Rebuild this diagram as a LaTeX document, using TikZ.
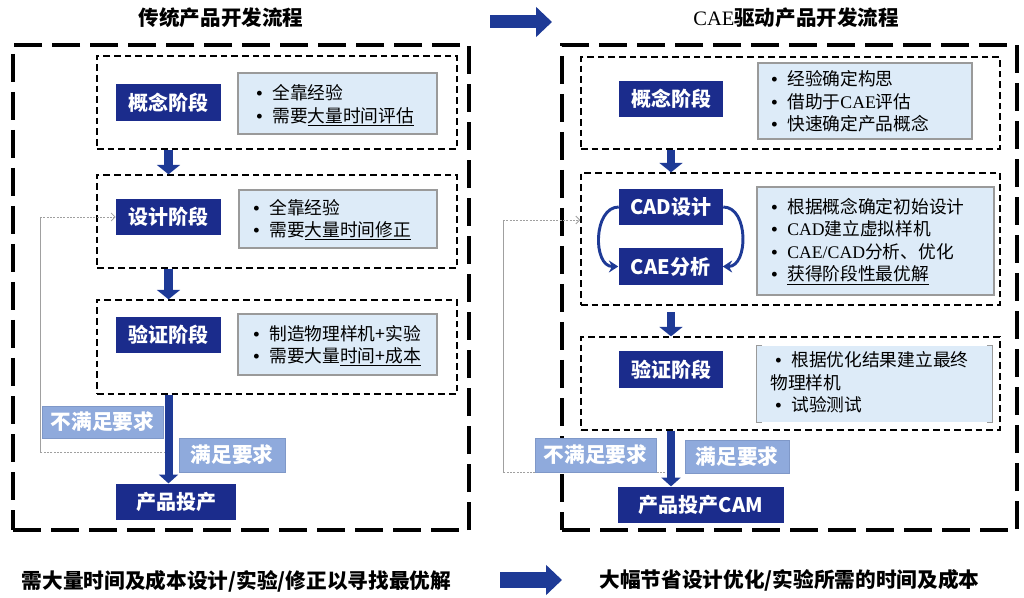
\documentclass[tikz,border=0pt]{standalone}
\usepackage{fontspec}
\setmainfont{Noto Sans CJK SC}
\newfontfamily\lser{Liberation Serif}
\usetikzlibrary{arrows.meta}
\definecolor{navy}{HTML}{1B2C8C}
\definecolor{arrblue}{HTML}{1E3A96}
\definecolor{lightfill}{HTML}{DDEBF8}
\definecolor{lightedge}{HTML}{9A9A9A}
\definecolor{labfill}{HTML}{8FAADC}
\definecolor{labedge}{HTML}{7F98C8}
\definecolor{fbgray}{HTML}{A0A0A0}
\newcommand\bu{\makebox[12pt][l]{\lser\bfseries •}}
\tikzset{
  outerbox/.style={draw=black, line width=3pt, dash pattern=on 21pt off 7.5pt, inner sep=0pt},
  innerbox/.style={draw=black, line width=1pt, dash pattern=on 5pt off 3pt, inner sep=0pt},
  stagebox/.style={fill=navy, text=white, font=\bfseries\fontsize{15}{18}\selectfont, inner sep=0pt, minimum height=27.5pt},
  lightbox/.style={fill=lightfill, draw=lightedge, line width=0.8pt, inner sep=0pt},
  labbox/.style={fill=labfill, draw=labedge, line width=0.6pt, text=white, font=\bfseries\fontsize{15.5}{18}\selectfont, inner sep=0pt},
  itemtext/.style={anchor=west, inner sep=0pt, font=\fontsize{13.3}{15}\selectfont},
  titletext/.style={font=\bfseries\fontsize{15.4}{18}\selectfont},
  bottomtext/.style={font=\bfseries\fontsize{15.5}{18}\selectfont},
  downarrow/.style={draw=arrblue, line width=6.5pt, -{Triangle[width=17pt,length=7pt]}},
  longarrow/.style={draw=arrblue, line width=6pt, -{Triangle[width=14pt,length=6.5pt]}},
  blockarrow/.style={draw=arrblue, line width=#1, -{Triangle[width=22pt,length=12pt]}},
  cyclearrow/.style={draw=arrblue, line width=2.2pt, -{Stealth[width=9pt,length=7pt]}},
  fbline/.style={draw=fbgray, line width=0.6pt},
  fbdot/.style={draw=fbgray, line width=0.6pt, dash pattern=on 1.5pt off 1pt},
}
\begin{document}
\begin{tikzpicture}[x=0.75pt,y=-0.75pt]
\useasboundingbox (0,0) rectangle (1024,598);

% ---------- titles ----------
\node[titletext] (tl) at (221,18) {传统产品开发流程};
\node[titletext] (tr) at (796,18) {{\lser\mdseries CAE}驱动产品开发流程};

% ---------- middle arrows ----------
\coordinate (ma1) at (490,22);
\coordinate (ma2) at (552,22);
\draw[blockarrow=9.75pt] (ma1) -- (ma2);
\coordinate (mb1) at (500,580);
\coordinate (mb2) at (562,580);
\draw[blockarrow=12pt] (mb1) -- (mb2);

% ---------- bottom texts ----------
\node[bottomtext] (bl) at (236.5,581) {需大量时间及成本设计/实验/修正以寻找最优解};
\node[bottomtext] (br) at (789.5,580) {大幅节省设计优化/实验所需的时间及成本};

% =============== LEFT PANEL ===============
\node[outerbox, minimum width=342pt, minimum height=363.75pt] (lo) at (241,287.5) {};
\node[innerbox, minimum width=270pt, minimum height=69.75pt] (lib1) at (277,102.5) {};
\node[innerbox, minimum width=270pt, minimum height=69.75pt] (lib2) at (277,221.5) {};
\node[innerbox, minimum width=270pt, minimum height=70.5pt] (lib3) at (277,347) {};

% feedback loop (drawn first, under labels)
\coordinate (lf1) at (169,452);
\coordinate (lf2) at (40,452);
\coordinate (lf3) at (40,217);
\draw[fbdot] (lf1) -- (lf2);
\draw[fbline] (lf2) -- (lf3);

\node[stagebox, minimum width=78.75pt] (lst1) at (168.5,102.5) {概念阶段};
\node[stagebox, minimum width=78.75pt] (lst2) at (168.5,217) {设计阶段};
\node[stagebox, minimum width=78.75pt] (lst3) at (168.5,335) {验证阶段};
\node[stagebox, minimum width=90pt] (lst4) at (176,502) {产品投产};

\draw[fbdot, -{Straight Barb[length=3pt,width=6pt]}] (lf3) -- (lst2.west);

\node[lightbox, minimum width=149.25pt, minimum height=45.75pt] (llb1) at (337.5,103.5) {};
\node[lightbox, minimum width=148.5pt, minimum height=43.5pt] (llb2) at (338,219) {};
\node[lightbox, minimum width=149.25pt, minimum height=45.75pt] (llb3) at (337.5,344.5) {};

\node[itemtext] (la1) at (256,93) {\bu 全靠经验};
\node[itemtext] (la2) at (256,117) {\bu 需要\underline{大量时间评估}};
\node[itemtext] (lb1) at (253,208) {\bu 全靠经验};
\node[itemtext] (lb2) at (253,231) {\bu 需要\underline{大量时间修正}};
\node[itemtext] (lc1) at (253,334) {\bu 制造物理样机+实验};
\node[itemtext] (lc2) at (253,357) {\bu 需要大量\underline{时间+成本}};

\draw[downarrow] (lib1.south -| lst1) -- (lib2.north -| lst1);
\draw[downarrow] (lib2.south -| lst1) -- (lib3.north -| lst1);
\draw[longarrow] (lib3.south -| lst1) -- (lst1 |- lst4.north);

\node[labbox, minimum width=90.75pt, minimum height=24pt] (lno) at (102.5,422) {不满足要求};
\node[labbox, minimum width=79.5pt, minimum height=25.5pt] (lyes) at (232,455) {满足要求};

% =============== RIGHT PANEL ===============
\node[outerbox, minimum width=341.25pt, minimum height=363.75pt] (ro) at (789.5,287.5) {};
\node[innerbox, minimum width=314.25pt, minimum height=69pt] (rib1) at (790.5,103) {};
\node[innerbox, minimum width=314.25pt, minimum height=99pt] (rib2) at (790.5,239) {};
\node[innerbox, minimum width=314.25pt, minimum height=69.75pt] (rib3) at (790.5,383.5) {};

\coordinate (rf1) at (672,472);
\coordinate (rf2) at (503,472);
\coordinate (rf3) at (503,220);
\draw[fbdot] (rf1) -- (rf2);
\draw[fbline] (rf2) -- (rf3);
\draw[fbdot, -{Straight Barb[length=3pt,width=6pt]}] (rf3) -- (rib2.west |- rf3);

\node[stagebox, minimum width=78pt] (rst1) at (671,99) {概念阶段};
\node[stagebox, minimum width=78pt] (rcad) at (671,207) {CAD设计};
\node[stagebox, minimum width=78pt, minimum height=27.75pt] (rcae) at (670.5,266.5) {CAE分析};
\node[stagebox, minimum width=78pt] (rst3) at (671,369.5) {验证阶段};
\node[stagebox, minimum width=124.5pt] (rst4) at (701,505) {产品投产CAM};

\draw[cyclearrow] (rcad.west) to[out=180,in=180,looseness=1.1] (rcae.west);
\draw[cyclearrow] (rcad.east) to[out=0,in=0,looseness=1.1] (rcae.east);

\node[lightbox, minimum width=160.5pt, minimum height=57pt] (rlb1) at (865,101) {};
\node[lightbox, minimum width=177.75pt, minimum height=81pt] (rlb2) at (875.5,241) {};
\node[fill=lightfill, inner sep=0pt, minimum width=176.25pt, minimum height=57pt] (rlb3) at (874.5,384) {};
\draw[lightedge, line width=0.8pt] ([xshift=4pt]rlb3.north west) -- (rlb3.north west) -- (rlb3.south west) -- ([xshift=4pt]rlb3.south west);
\draw[lightedge, line width=0.8pt] ([xshift=-4pt]rlb3.north east) -- (rlb3.north east) -- (rlb3.south east) -- ([xshift=-4pt]rlb3.south east);

\node[itemtext] (ra1) at (771,79) {\bu 经验确定构思};
\node[itemtext] (ra2) at (771,102) {\bu 借助于{\lser CAE}评估};
\node[itemtext] (ra3) at (771,124) {\bu 快速确定产品概念};
\node[itemtext] (rb1) at (771,207) {\bu 根据概念确定初始设计};
\node[itemtext] (rb2) at (771,229) {\bu {\lser CAD}建立虚拟样机};
\node[itemtext] (rb3) at (771,252) {\bu {\lser CAE/CAD}分析、优化};
\node[itemtext] (rb4) at (771,275) {\bu \underline{获得阶段性最优解}};
\node[itemtext] (rc1) at (775,360) {\bu 根据优化结果建立最终};
\node[itemtext] (rc2) at (770,383) {物理样机};
\node[itemtext] (rc3) at (775,405) {\bu 试验测试};

\draw[downarrow] (rib1.south -| rst1) -- (rib2.north -| rst1);
\draw[downarrow] ([yshift=-5pt]rib2.south -| rst1) -- (rib3.north -| rst1);
\draw[longarrow] (rib3.south -| rst1) -- (rst1 |- rst4.north);

\node[labbox, minimum width=90.75pt, minimum height=25.5pt] (rno) at (595.5,455) {不满足要求};
\node[labbox, minimum width=78pt, minimum height=24.75pt] (ryes) at (737,456.5) {满足要求};
\end{tikzpicture}
\end{document}
